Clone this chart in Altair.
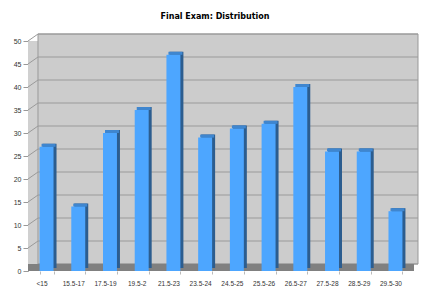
import altair as alt
import pandas as pd

categories = ["<15", "15.5-17", "17.5-19", "19.5-2", "21.5-23", "23.5-24",
              "24.5-25", "25.5-26", "26.5-27", "27.5-28", "28.5-29", "29.5-30"]
counts = [27, 14, 30, 35, 47, 29, 31, 32, 40, 26, 26, 13]
tick_values = [0, 5, 10, 15, 20, 25, 30, 35, 40, 45, 50]

DX, DY = 10, -7          # 3-D depth offset of the back wall
W, H = 390, 238

bars_df = pd.DataFrame({"cat": categories, "n": counts})
ticks_df = pd.DataFrame({"v": tick_values})
wall_df = pd.DataFrame({"top": [50], "bottom": [0]})

yscale = alt.Scale(domain=[0, 50], range=[H, 8], nice=False, zero=False)
xscale = alt.Scale(domain=categories, range=[3, 383], paddingInner=0.56, paddingOuter=0.27)

y_axis = alt.Axis(title=None, values=tick_values, labelFontSize=7,
                  labelFont="Liberation Sans", labelColor="#333333",
                  domainColor="#999999", tickColor="#999999",
                  tickSize=5, labelPadding=2, grid=False)
x_axis = alt.Axis(title=None, labelAngle=0, labelFontSize=6.5,
                  labelFont="Liberation Sans", labelColor="#333333",
                  domain=False, ticks=True, tickBand="extent",
                  tickSize=3, tickColor="#bbbbbb", labelPadding=6,
                  labelOffset=-5)


def Y(field):
    return alt.Y(field, scale=yscale, axis=y_axis)


left_wall = alt.Chart(wall_df).mark_rect(fill="#d0d0d0").encode(
    x=alt.value(0), x2=alt.value(DX), y=Y("top:Q"), y2="bottom:Q")

back_wall = alt.Chart(wall_df).mark_rect(
    fill="#cccccc", stroke="#999999", strokeWidth=1, yOffset=DY, y2Offset=DY
).encode(x=alt.value(DX), x2=alt.value(W), y=Y("top:Q"), y2="bottom:Q")

grid = alt.Chart(ticks_df).mark_rule(
    color="#9a9a9a", strokeWidth=1, yOffset=DY, y2Offset=DY
).encode(x=alt.value(DX), x2=alt.value(W), y=Y("v:Q"))

diag = alt.Chart(ticks_df).mark_rule(color="#9a9a9a", strokeWidth=1, y2Offset=DY).encode(
    x=alt.value(0), x2=alt.value(DX), y=Y("v:Q"), y2="v:Q")

floor = alt.Chart(wall_df).mark_rect(fill="#808080", y2Offset=DY).encode(
    x=alt.value(0), x2=alt.value(386), y=Y("bottom:Q"), y2="bottom:Q")

xbase = alt.X("cat:N", scale=xscale, sort=categories, axis=x_axis)

side = alt.Chart(bars_df).mark_bar(
    color="#2c5d8f", xOffset=3, x2Offset=3, yOffset=-3, y2Offset=-3
).encode(x=xbase, y=Y("n:Q"))

topface = alt.Chart(bars_df).mark_bar(
    color="#3f86cf", xOffset=2, x2Offset=2, yOffset=-3, y2Offset=0
).encode(x=xbase, y=Y("n:Q"), y2="n:Q")

front = alt.Chart(bars_df).mark_bar(color="#4da6ff").encode(x=xbase, y=Y("n:Q"))

chart = alt.layer(left_wall, back_wall, grid, diag, floor, side, topface, front).properties(
    width=W, height=H,
    autosize=alt.AutoSizeParams(type="none"),
    padding={"left": 28, "top": 33, "right": 14, "bottom": 24},
    background="white",
    title=alt.TitleParams("Final Exam: Distribution", fontSize=8, fontWeight="bold",
                          font="DejaVu Sans", anchor="middle", dx=-8, offset=12,
                          color="#000000"),
).configure_view(stroke=None)

chart.save("out.html", embed_options={"renderer": "svg", "actions": False})
